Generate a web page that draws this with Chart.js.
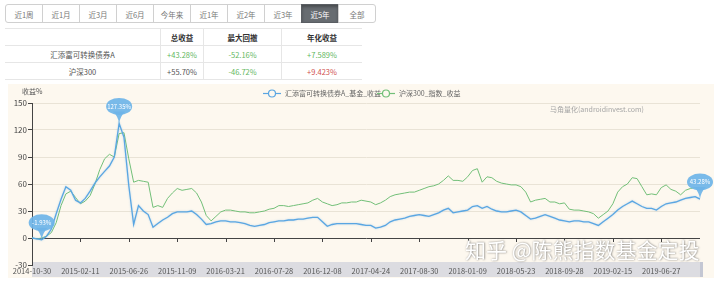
<!DOCTYPE html>
<html>
<head>
<meta charset="utf-8">
<script src="https://cdn.jsdelivr.net/npm/chart.js@4.4.0/dist/chart.umd.min.js"></script>
<style>
  body { margin: 0; width: 720px; height: 285px; background: #fff; position: relative; overflow: hidden;
         font-family: "Noto Sans CJK SC", "Noto Sans", sans-serif; color: #555; }
  .btns { position: absolute; left: 5px; top: 4px; display: flex; }
  .btns div { width: 38px; height: 19px; line-height: 19px; box-sizing: border-box; border: 1px solid #d0d0d0;
              margin-right: -1px; text-align: center; font-size: 7.5px; color: #777; background: #fff; }
  .btns div:first-child { border-radius: 3px 0 0 3px; }
  .btns div:last-child { border-radius: 0 3px 3px 0; }
  .btns div.on { background: #676c71; color: #fff; border-color: #5a5e63; box-shadow: inset 0 2px 3px rgba(0,0,0,.3); }
  table { position: absolute; left: 5px; top: 28px; border-collapse: collapse; font-size: 7.5px; }
  td { height: 16px; padding: 0; text-align: center; border-top: 1px solid #e6e6e6; border-bottom: 1px solid #e6e6e6; }
  td + td { border-left: 1px solid #e6e6e6; }
  .g { color: #5fb760; } .r { color: #d0504d; } .k { color: #555; }
  #panel { position: absolute; left: 8px; top: 84px; width: 706px; height: 194px; background: #fdf8ef; }
</style>
</head>
<body>
<div class="btns">
  <div>近1周</div><div>近1月</div><div>近3月</div><div>近6月</div><div>今年来</div>
  <div>近1年</div><div>近2年</div><div>近3年</div><div class="on">近5年</div><div>全部</div>
</div>
<table>
  <tr><td style="width:155px"></td><td style="width:42px;font-weight:bold;color:#333">总收益</td>
      <td style="width:77px;font-weight:bold;color:#333">最大回撤</td><td style="width:80px;font-weight:bold;color:#333">年化收益</td></tr>
  <tr><td>汇添富可转换债券A</td><td class="g">+43.28%</td><td class="g">-52.16%</td><td class="g">+7.589%</td></tr>
  <tr><td>沪深300</td><td class="k">+55.70%</td><td class="g">-46.72%</td><td class="r">+9.423%</td></tr>
</table>
<div id="panel"><canvas id="chart"></canvas></div>
<script>
// ─── DATOS ────────────────────────────────────────────
const tickLabels = ['2014-10-30','2015-02-11','2015-06-26','2015-11-09','2016-03-21','2016-07-28','2016-12-08',
    '2017-04-24','2017-08-30','2018-01-09','2018-05-23','2018-09-28','2019-02-15','2019-06-27'];
const seriesNames = ['汇添富可转换债券A_基金_收益', '沪深300_指数_收益'];

const fundValues = [0,-1,-1.93,2,10,27,43,57,53,42,
    39,44,52,61,68,74,80,90,127.35,112,
    58,15,36,30,26,12,16,20,23,27,
    29,29,29,30,26,21,15,16,18,19,
    19,18,18,17,16,14,13,14,15,17,
    18,19,19,20,20,21,21,22,23,23,
    18,13,15,16,16,16,16,16,15,14,
    14,11,12,14,18,20,21,22,24,25,
    26,25,24,26,28,31,33,28,29,30,
    31,35,36,33,35,32,30,29,29,30,
    31,29,25,21,22,24,26,24,22,20,
    19,18,19,19,18,18,16,14,18,22,
    26,31,35,38,41,38,35,33,33,31,
    35,38,39,40,42,44,45,46,43.28];

const indexValues = [0,-1,0,2,6,17,36,49,52,45,
    38,41,47,60,76,88,93,90,116,117,
    88,62,64,63,62,34,36,34,44,50,
    55,53,54,55,50,40,25,19,24,29,
    31,31,30,29,29,28,28,29,30,32,
    33,36,36,35,36,37,38,39,42,44,
    40,38,36,37,39,39,40,40,42,41,
    40,37,39,42,46,48,49,50,51,51,
    53,55,57,58,60,64,69,64,64,63,
    68,75,77,62,68,67,63,61,60,59,
    59,57,51,40,42,43,44,40,40,38,
    39,32,31,31,30,29,27,22,26,30,
    38,51,57,60,67,66,57,48,49,48,
    56,59,54,52,48,53,55,56,55.7];

// marcadores (min, max, último) sobre la serie del fondo
const pinIndex = [2, 18, 138];
const pinLabels = ['-1.93%', '127.35%', '43.28%'];

const BLUE = '#5aa6e2';
const GREEN = '#72bf78';
const FONT = '"Noto Sans CJK SC", "Noto Sans", sans-serif';

// ─── PLUGIN DECORACIÓN ─────────────────────────────────
const decor = {
    id: 'decor',
    beforeDraw(chart) {
        const { ctx, chartArea: a } = chart;
        // barra dataZoom
        ctx.save();
        ctx.fillStyle = 'rgba(205,208,220,0.7)';
        ctx.fillRect(a.left, a.bottom - 3, a.right - a.left + 2, 15);
        ctx.fillStyle = '#c4c7d3';
        ctx.fillRect(a.right, a.bottom - 3, 3, 15);
        ctx.restore();
    },
    beforeDatasetsDraw(chart) {
        const { ctx } = chart;
        const x = chart.scales.x, y = chart.scales.y;
        const y0 = y.getPixelForValue(0);
        ctx.save();
        ctx.strokeStyle = '#444';
        ctx.lineWidth = 1;
        for (let i = 1; i < tickLabels.length; i++) {
            const px = Math.round(x.getPixelForValue(i * 10)) + 0.5;
            ctx.beginPath();
            ctx.moveTo(px, y0);
            ctx.lineTo(px, y0 + 4);
            ctx.stroke();
        }
        ctx.restore();
    },
    beforeDatasetDraw(chart, args) {
        const ctx = chart.ctx;
        ctx.save();
        if (args.index === 0) {
            ctx.shadowColor = 'rgba(90,166,226,0.4)';
            ctx.shadowBlur = 2;
        }
    },
    afterDatasetDraw(chart) {
        chart.ctx.restore();
    },
    afterDatasetsDraw(chart) {
        const { ctx } = chart;
        const meta = chart.getDatasetMeta(0);
        ctx.save();
        pinIndex.forEach((idx, k) => {
            const p = meta.data[idx];
            const tx = p.x, ty = p.y;
            const cy = ty - 17;
            ctx.fillStyle = 'rgba(110,180,232,0.92)';
            ctx.beginPath();
            ctx.ellipse(tx, cy, 13, 8.5, 0, 0, Math.PI * 2);
            ctx.fill();
            ctx.beginPath();
            ctx.moveTo(tx - 6, cy + 5);
            ctx.quadraticCurveTo(tx - 1, cy + 10, tx, ty);
            ctx.quadraticCurveTo(tx + 1, cy + 10, tx + 6, cy + 5);
            ctx.closePath();
            ctx.fill();
            ctx.fillStyle = '#fff';
            ctx.font = '6px ' + FONT;
            ctx.textAlign = 'center';
            ctx.textBaseline = 'middle';
            ctx.fillText(pinLabels[k], tx, cy);
        });
        ctx.restore();
    },
    afterDraw(chart) {
        const { ctx } = chart;
        ctx.save();
        // nombre eje
        ctx.fillStyle = '#555';
        ctx.font = '7px ' + FONT;
        ctx.textBaseline = 'middle';
        ctx.fillText('收益%', 14, 7.5);
        // leyenda
        const items = [[264, BLUE, seriesNames[0]], [378, GREEN, seriesNames[1]]];
        items.forEach(([cx, col, name]) => {
            ctx.strokeStyle = col;
            ctx.lineWidth = 1.2;
            ctx.beginPath();
            ctx.moveTo(cx - 9, 9.5); ctx.lineTo(cx + 9, 9.5);
            ctx.stroke();
            ctx.fillStyle = '#fdf8ef';
            ctx.beginPath();
            ctx.arc(cx, 9.5, 3.5, 0, Math.PI * 2);
            ctx.fill(); ctx.stroke();
            ctx.fillStyle = '#666';
            ctx.fillText(name, cx + 13, 9.5);
        });
        // marca de agua
        ctx.fillStyle = '#a5a5a5';
        ctx.fillText('马角量化(androidinvest.com)', 542, 25);
        ctx.font = '21px ' + FONT;
        ctx.shadowColor = 'rgba(0,0,0,0.55)';
        ctx.shadowBlur = 2;
        ctx.shadowOffsetX = 0.5;
        ctx.shadowOffsetY = 0.5;
        ctx.fillStyle = '#fff';
        ctx.fillText('知乎 @陈熊指数基金定投', 457, 166);
        ctx.restore();
    }
};

// ─── CHART ─────────────────────────────────────────────
new Chart(document.getElementById('chart').getContext('2d'), {
    type: 'line',
    data: {
        datasets: [
            { label: seriesNames[0], data: fundValues.map((v, i) => ({ x: i, y: v })),
              borderColor: BLUE, borderWidth: 1.3, pointRadius: 0, tension: 0 },
            { label: seriesNames[1], data: indexValues.map((v, i) => ({ x: i, y: v })),
              borderColor: GREEN, borderWidth: 1, pointRadius: 0, tension: 0 }
        ]
    },
    options: {
        responsive: true,
        maintainAspectRatio: false,
        animation: false,
        layout: { padding: { top: 19, right: 14, left: 0, bottom: 0 } },
        plugins: { legend: { display: false }, tooltip: { enabled: false } },
        scales: {
            x: {
                type: 'linear', min: 0, max: fundValues.length - 1,
                grid: { display: false, drawTicks: false, tickLength: 0 },
                border: { display: false },
                afterFit: s => { s.height = 13; },
                ticks: {
                    stepSize: 10, autoSkip: false, maxRotation: 0, padding: 2,
                    color: '#555', font: { size: 7.5, family: FONT },
                    callback: v => (v % 10 === 0 && tickLabels[v / 10]) ? tickLabels[v / 10] : ''
                }
            },
            y: {
                min: -30, max: 150,
                afterFit: s => { s.width = 24; },
                border: { display: true, color: '#444', width: 1 },
                grid: {
                    color: c => c.tick.value === 0 ? '#444' : (c.tick.value === -30 ? 'rgba(0,0,0,0)' : '#e9e3d6'),
                    tickColor: '#444', tickLength: 4
                },
                ticks: { stepSize: 30, padding: 1, color: '#444', font: { size: 8, family: FONT } }
            }
        }
    },
    plugins: [decor]
});
</script>
</body>
</html>
